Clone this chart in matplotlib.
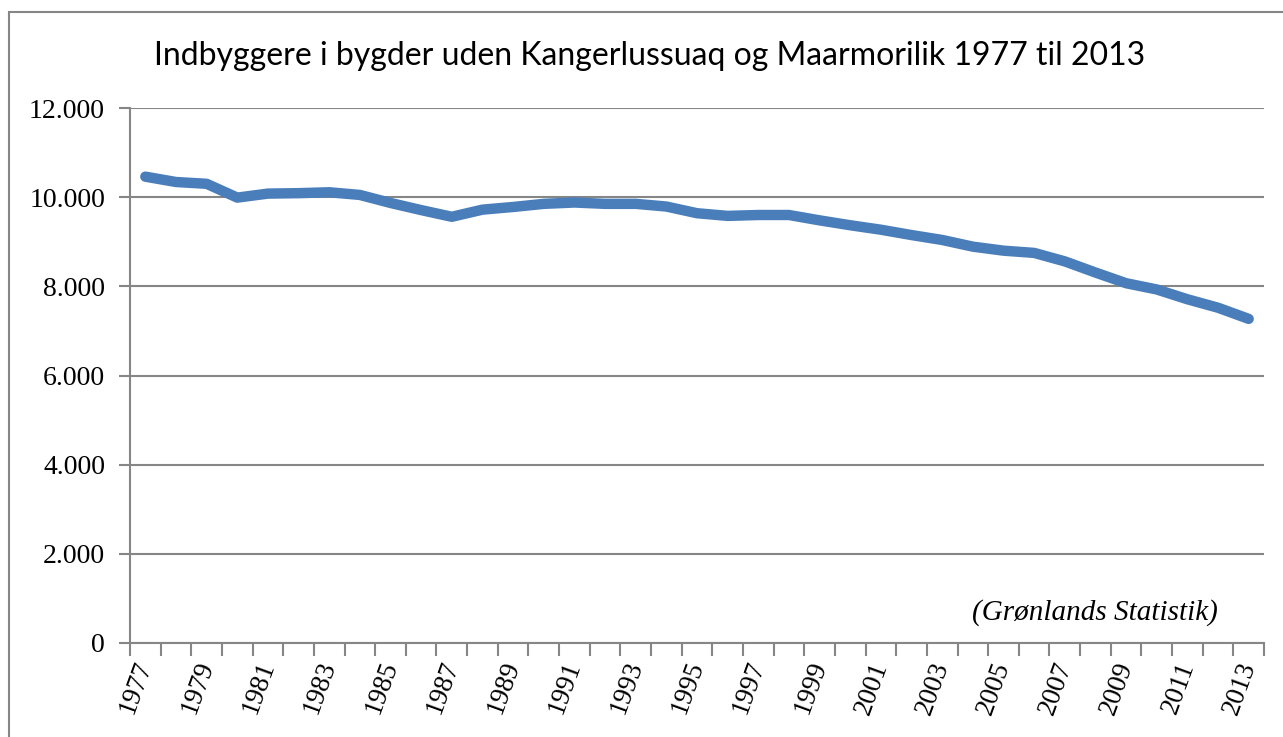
import matplotlib.pyplot as plt
from matplotlib.patches import Rectangle
import numpy as np

years = list(range(1977, 2014))
inhabitants = [10460, 10340, 10300, 9990, 10080, 10090, 10110, 10050, 9870, 9710,
               9560, 9720, 9780, 9850, 9880, 9850, 9850, 9790, 9640, 9580,
               9600, 9600, 9480, 9370, 9270, 9150, 9040, 8890, 8800, 8750,
               8560, 8310, 8070, 7930, 7710, 7520, 7270]
y_ticks = [0, 2000, 4000, 6000, 8000, 10000, 12000]
y_labels = ['0', '2.000', '4.000', '6.000', '8.000', '10.000', '12.000']

W, H = 1283, 737
fig = plt.figure(figsize=(W / 100, H / 100), dpi=100)
ax = fig.add_axes([130 / W, (H - 643) / H, (1264 - 130) / W, (643 - 108) / H])

grey = '#868686'
x = np.arange(len(years))
ax.plot(x, inhabitants, color='#4A7EBB', lw=7.5, solid_capstyle='round',
        solid_joinstyle='round', zorder=3)

ax.set_xlim(-0.5, len(years) - 0.5)
ax.set_ylim(0, 12000)
ax.set_yticks(y_ticks)
ax.set_yticklabels(y_labels, family='Liberation Serif', fontsize=20)
ax.grid(axis='y', color=grey, lw=1.5)
ax.set_axisbelow(True)

ax.set_xticks(x[::2])
ax.set_xticklabels([str(y) for y in years[::2]], family='Liberation Serif', fontsize=19.5,
                   rotation=70, ha='right', va='center', rotation_mode='anchor')
ax.set_xticks(np.arange(len(years) + 1) - 0.5, minor=True)
ax.tick_params(axis='x', which='major', length=0, pad=14)
ax.tick_params(axis='x', which='minor', length=9, width=1.5, color=grey)
ax.tick_params(axis='y', length=8, width=1.5, color=grey, pad=10)

for s in ['top', 'right']:
    ax.spines[s].set_visible(False)
for s in ['left', 'bottom']:
    ax.spines[s].set_color(grey)
    ax.spines[s].set_linewidth(1.5)

fig.text(650 / W, 1 - 56 / H, 'Indbyggere i bygder uden Kangerlussuaq og Maarmorilik 1977 til 2013',
         family='Lato', fontsize=23, ha='center', va='center')
ax.text(1218 / W, 1 - 613 / H, '(Grønlands Statistik)', transform=fig.transFigure,
        family='Liberation Serif', style='italic', fontsize=21, ha='right', va='center')

fig.patches.append(Rectangle((9 / W, -0.1), 1.2, 1 - 12 / H + 0.1, transform=fig.transFigure,
                             fill=False, edgecolor=grey, lw=1.5))

fig.savefig('out.png', dpi=100)
